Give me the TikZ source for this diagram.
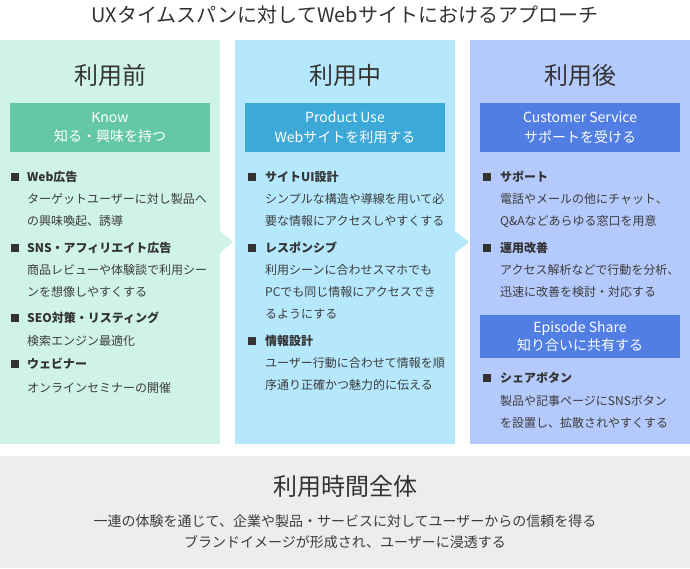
\documentclass[tikz,border=0pt]{standalone}
\usepackage{fontspec}
\setmainfont{Noto Sans CJK JP}
\definecolor{txt}{HTML}{333333}
\definecolor{bodytxt}{HTML}{3C3C3C}
\definecolor{fillA}{HTML}{CFF3E7}
\definecolor{hdrA}{HTML}{64C8A6}
\definecolor{fillB}{HTML}{B5E8FD}
\definecolor{hdrB}{HTML}{3DA9D9}
\definecolor{fillC}{HTML}{B4C9FC}
\definecolor{hdrC}{HTML}{517EE3}
\definecolor{band}{HTML}{EDEDED}
\tikzset{
  colhead/.style={inner sep=0pt, text=txt, font=\fontsize{24}{28}\selectfont},
  hdrbox/.style={minimum width=200pt, minimum height=49pt, inner sep=0pt, text=white, align=center, font=\fontsize{14}{19.5}\selectfont},
  itemhead/.style={anchor=base west, inner sep=0pt, text=txt, font=\bfseries\fontsize{12}{22}\selectfont},
  itembody/.style={anchor=base west, inner sep=0pt, align=left, text=bodytxt, font=\fontsize{12}{22}\selectfont},
  bulletsq/.style={minimum size=8pt, inner sep=0pt, fill=txt, draw=none},
}
\begin{document}
\begin{tikzpicture}[x=1pt,y=-1pt]
\useasboundingbox (0,0) rectangle (690,568);
% title
\node[inner sep=0pt, text=txt, font=\fontsize{20}{24}\selectfont] (title) at (345,15) {UXタイムスパンに対してWebサイトにおけるアプローチ};
% column backgrounds with arrows
\fill[fillA] (0,40) -- (220,40) -- (220,231) -- (233,242) -- (220,253) -- (220,444) -- (0,444) -- cycle;
\fill[fillB] (235,40) -- (455,40) -- (455,231) -- (469,242) -- (455,253) -- (455,444) -- (235,444) -- cycle;
\fill[fillC] (470,40) rectangle (690,444);
% bottom band
\fill[band] (0,456) rectangle (690,568);

% column headings
\node[colhead] (hA) at (110,75) {利用前};
\node[colhead] (hB) at (345,75) {利用中};
\node[colhead] (hC) at (580,75) {利用後};

% header boxes
\node[hdrbox, fill=hdrA] (bA) at (110,127.5) {Know\\知る・興味を持つ};
\node[hdrbox, fill=hdrB] (bB) at (345,127.5) {Product Use\\Webサイトを利用する};
\node[hdrbox, fill=hdrC] (bC) at (580,127.5) {Customer Service\\サポートを受ける};
\node[hdrbox, fill=hdrC, minimum height=43pt, font=\fontsize{14}{18.5}\selectfont] (bC2) at (580,336.5) {Episode Share\\知り合いに共有する};

% column A items (body nodes are placed by the baseline of their last line)
\node[bulletsq] (qA1) at (15,177) {};
\node[itemhead] (tA1) at (27,181.5) {Web広告};
\node[itembody] (dA1) at (27,225.5) {ターゲットユーザーに対し製品へ\\の興味喚起、誘導};
\node[bulletsq] (qA2) at (15,248) {};
\node[itemhead] (tA2) at (27,252.5) {SNS・アフィリエイト広告};
\node[itembody] (dA2) at (27,296.5) {商品レビューや体験談で利用シー\\ンを想像しやすくする};
\node[bulletsq] (qA3) at (15,318) {};
\node[itemhead] (tA3) at (27,322.5) {SEO対策・リスティング};
\node[itembody] (dA3) at (27,345.5) {検索エンジン最適化};
\node[bulletsq] (qA4) at (15,364) {};
\node[itemhead] (tA4) at (27,368.5) {ウェビナー};
\node[itembody] (dA4) at (27,392.5) {オンラインセミナーの開催};

% column B items
\node[bulletsq] (qB1) at (252,177) {};
\node[itemhead] (tB1) at (265,181.5) {サイトUI設計};
\node[itembody] (dB1) at (265,225.5) {シンプルな構造や導線を用いて必\\要な情報にアクセスしやすくする};
\node[bulletsq] (qB2) at (252,248) {};
\node[itemhead] (tB2) at (265,252.5) {レスポンシブ};
\node[itembody] (dB2) at (265,318.5) {利用シーンに合わせスマホでも\\PCでも同じ情報にアクセスでき\\るようにする};
\node[bulletsq] (qB3) at (252,341) {};
\node[itemhead] (tB3) at (265,345.5) {情報設計};
\node[itembody] (dB3) at (265,389.5) {ユーザー行動に合わせて情報を順\\序通り正確かつ魅力的に伝える};

% column C items
\node[bulletsq] (qC1) at (487,177) {};
\node[itemhead] (tC1) at (500,181.5) {サポート};
\node[itembody] (dC1) at (500,225.5) {電話やメールの他にチャット、\\Q\&Aなどあらゆる窓口を用意};
\node[bulletsq] (qC2) at (487,248) {};
\node[itemhead] (tC2) at (500,252.5) {運用改善};
\node[itembody] (dC2) at (500,296.5) {アクセス解析などで行動を分析、\\迅速に改善を検討・対応する};
\node[bulletsq] (qC3) at (487,378) {};
\node[itemhead] (tC3) at (500,382.5) {シェアボタン};
\node[itembody] (dC3) at (500,427.5) {製品や記事ページにSNSボタン\\を設置し、拡散されやすくする};

% bottom
\node[colhead] (hD) at (345,486) {利用時間全体};
\node[inner sep=0pt, align=center, text=bodytxt, font=\fontsize{14}{21}\selectfont] (dD) at (345,531.5) {一連の体験を通じて、企業や製品・サービスに対してユーザーからの信頼を得る\\ブランドイメージが形成され、ユーザーに浸透する};
\end{tikzpicture}
\end{document}
